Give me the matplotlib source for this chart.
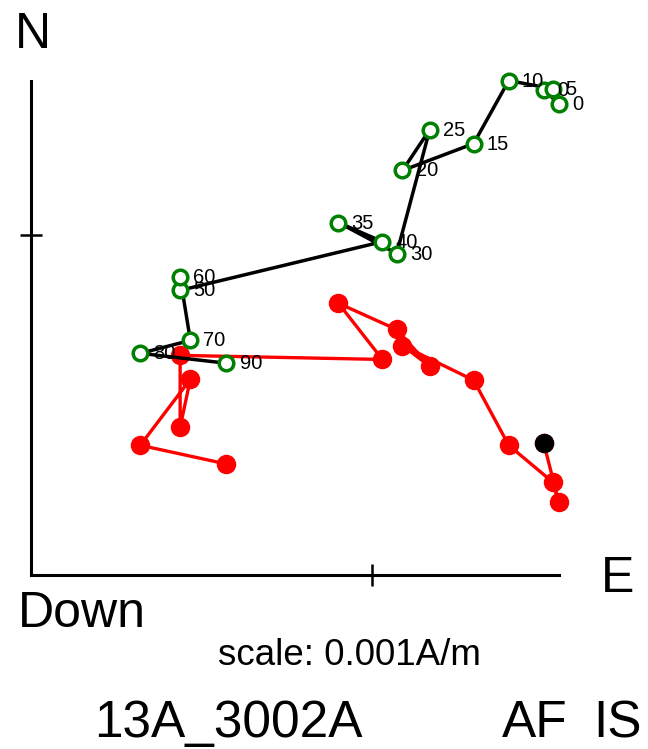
"""
Zijderveld plot, specimen 13A_3002A (AF demagnetisation)
"""
import matplotlib
matplotlib.use('Agg')
import matplotlib.pyplot as plt

plt.rcParams['font.family'] = ['Liberation Sans', 'DejaVu Sans']

# ── data (A/m) ────────────────────────────────────────────────────────────────
steps = ['0', '0', '5', '10', '15', '20', '25', '30', '35', '40', '50', '60', '70', '80', '90']
east  = [1.506, 1.550, 1.532, 1.403, 1.300, 1.091, 1.171, 1.074, 0.903, 1.032,
         0.438, 0.438, 0.468, 0.321, 0.574]
north = [1.425, 1.384, 1.428, 1.452, 1.267, 1.188, 1.308, 0.944, 1.035, 0.979,
         0.836, 0.874, 0.689, 0.651, 0.622]
up    = [0.387, 0.214, 0.273, 0.381, 0.572, 0.674, 0.613, 0.721, 0.798, 0.633,
         0.645, 0.434, 0.575, 0.381, 0.326]
scale = 0.001
east  = [v * scale for v in east]
north = [v * scale for v in north]
up    = [v * scale for v in up]

W, H = 648, 749
PPU = 340.5 / scale     # pixels per A/m
X0, Y0 = 31, 575        # origin in pixels

fig = plt.figure(figsize=(W / 100, H / 100), dpi=100)
ax = fig.add_axes([0, 0, 1, 1])
ax.set_xlim(-X0 / PPU, (W - X0) / PPU)
ax.set_ylim(-(H - Y0) / PPU, Y0 / PPU)
ax.axis('off')

# ── axes through origin ───────────────────────────────────────────────────────
xmax = max(east)
ymax = max(max(north), max(up))
ax.plot([0, xmax], [0, 0], color='k', lw=2.2, zorder=1)
ax.plot([0, 0], [0, ymax], color='k', lw=2.2, zorder=1)
ax.plot([scale, 0], [0, scale], ls='none', marker='+', ms=16, mew=1.8,
        color='k', zorder=1)

# ── vertical projection (red) ─────────────────────────────────────────────────
ax.plot(east, up, color='red', lw=2.4, zorder=2)
ax.plot(east, up, ls='none', marker='o', ms=13, mfc='red', mec='red', mew=1,
        zorder=3)
ax.plot(east[0], up[0], ls='none', marker='o', ms=13, mfc='k', mec='k', mew=1,
        zorder=6)

# ── horizontal projection (green, open) ───────────────────────────────────────
ax.plot(east, north, color='k', lw=2.5, zorder=4)
ax.plot(east, north, ls='none', marker='o', ms=10.5, mfc='white', mec='green',
        mew=2.5, zorder=5)
for xe, yn, s in zip(east, north, steps):
    ax.annotate(s, (xe, yn), xytext=(9.4, -4.3), textcoords='offset points',
                ha='left', va='baseline', fontsize=14.5, color='k', zorder=7)

# ── labels ────────────────────────────────────────────────────────────────────
def ftext(px, py, s, size, ha='center'):
    fig.text(px / W, 1 - py / H, s, ha=ha, va='baseline', fontsize=size, color='k')

ftext(32.5, 48, 'N', 36)
ftext(617.5, 592, 'E', 36)
ftext(81.5, 627, 'Down', 36)
ftext(349, 665, 'scale: 0.001A/m', 26.5)
ftext(228.5, 737, '13A_3002A', 37)
ftext(502, 737, 'AF', 37, ha='left')
ftext(642, 737, 'IS', 37, ha='right')

plt.savefig('out.png', dpi=100, facecolor='white')
